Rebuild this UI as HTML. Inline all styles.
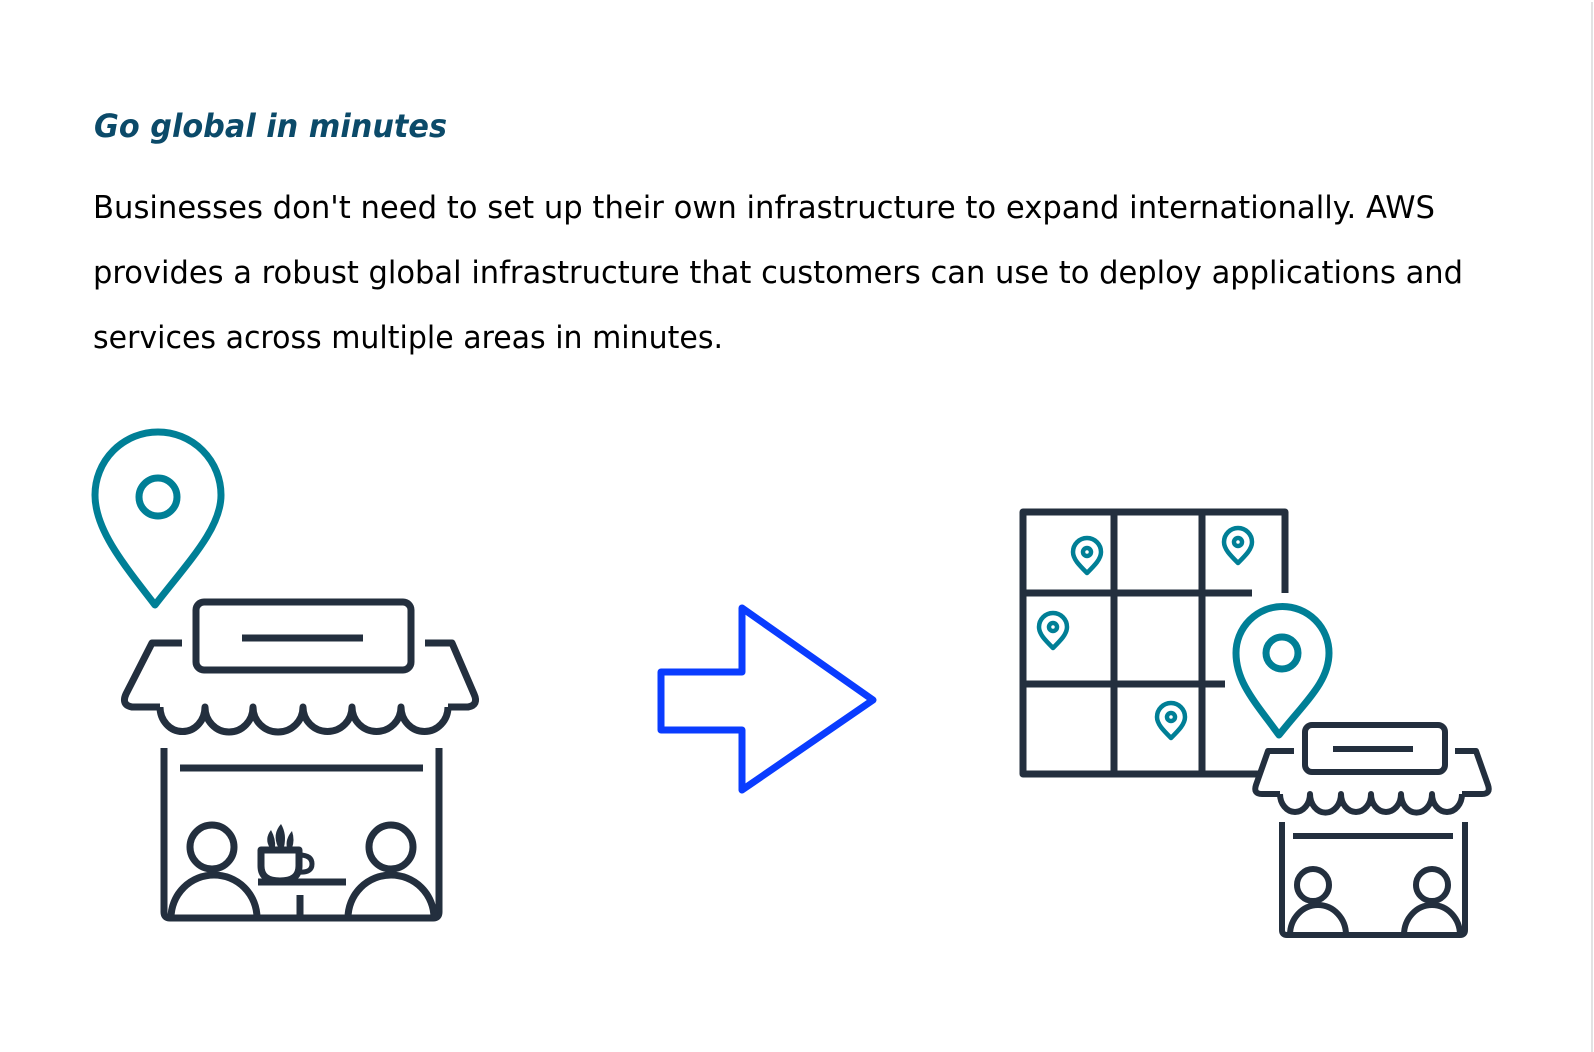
<!DOCTYPE html>
<html><head><meta charset="utf-8"><style>
html,body{margin:0;padding:0;background:#fff;width:1594px;height:1052px;overflow:hidden}
svg{display:block}
</style></head><body>
<svg width="1594" height="1052" viewBox="0 0 1594 1052" xmlns="http://www.w3.org/2000/svg">
<rect x="1591" y="2" width="2" height="1050" fill="#e2e2e2"/>
<text x="94" y="137" font-family="DejaVu Sans, sans-serif" font-size="32" font-weight="bold" font-style="italic" fill="#0b4a69" textLength="353" lengthAdjust="spacingAndGlyphs">Go global in minutes</text>
<g font-family="DejaVu Sans, sans-serif" font-size="31" fill="#000">
<text x="93" y="218" textLength="1342" lengthAdjust="spacingAndGlyphs">Businesses don't need to set up their own infrastructure to expand internationally. AWS</text>
<text x="93" y="283" textLength="1370" lengthAdjust="spacingAndGlyphs">provides a robust global infrastructure that customers can use to deploy applications and</text>
<text x="93" y="348" textLength="630" lengthAdjust="spacingAndGlyphs">services across multiple areas in minutes.</text>
</g>

<!-- left pin -->
<g fill="none" stroke="#007f96" stroke-width="7" stroke-linejoin="round">
<path d="M155,605 C120,560 95,528 95,495 A63,63 0 1 1 221,495 C221,528 190,560 155,605 Z"/>
<circle cx="158" cy="497" r="19"/>
</g>

<!-- left store -->
<g fill="none" stroke="#232f3e" stroke-width="7" stroke-linejoin="round" stroke-linecap="butt">
<rect x="196" y="602" width="215" height="68" rx="8"/>
<line x1="242" y1="638" x2="363" y2="638"/>
<path d="M182,643 L152,643 L126,694 Q121,705 132,707 L160,707"/>
<path d="M425,643 L452,643 L474,694 Q479,705 468,707 L448,707"/>
<path d="M160,707 A22,24 0 0 0 205,707 A23,24 0 0 0 253,707 A24,24 0 0 0 303,707 A24,24 0 0 0 352,707 A24,24 0 0 0 401,707 A23,24 0 0 0 448,707"/>
<path d="M164,748 L164,912 Q164,918 170,918 L433,918 Q439,918 439,912 L439,748"/>
<line x1="180" y1="768" x2="423" y2="768"/>
<circle cx="212" cy="847" r="22"/>
<path d="M171,918 A43,43 0 0 1 257,918"/>
<circle cx="391" cy="847" r="22"/>
<path d="M348,918 A43,43 0 0 1 434,918"/>
<line x1="258" y1="882" x2="346" y2="882"/>
<line x1="300" y1="895" x2="300" y2="918"/>
<path d="M261,850 L299,850 L299,866 Q299,881 280,881 Q261,881 261,866 Z" stroke-width="7"/>
<path d="M299,855 Q312,855 312,864 Q312,873 299,872" stroke-width="5"/>
</g>
<g fill="#232f3e">
<path d="M270,848 Q264,839 271,830 Q276,839 275,848 Z"/>
<path d="M278,847 Q272,834 281,824 Q287,834 284,847 Z"/>
<path d="M287,848 Q285,839 292,831 Q295,840 292,848 Z"/>
</g>

<!-- arrow -->
<path d="M661,672 L742,672 L742,608 L873,700 L742,790 L742,730 L661,730 Z" fill="none" stroke="#0a3cff" stroke-width="7" stroke-linejoin="round"/>

<!-- grid -->
<g fill="none" stroke="#232f3e" stroke-width="7" stroke-linejoin="round">
<path d="M1260,774 L1023,774 L1023,512 L1285,512 L1285,593"/>
<line x1="1114" y1="512" x2="1114" y2="774"/>
<line x1="1202" y1="512" x2="1202" y2="774"/>
<line x1="1023" y1="593" x2="1252" y2="593"/>
<line x1="1023" y1="684" x2="1225" y2="684"/>
</g>
<!-- small pins -->
<g fill="none" stroke="#007f96" stroke-width="4.5" stroke-linejoin="round">
<path d="M1087,573 C1079,565 1073,559 1073,552 A14,14 0 1 1 1101,552 C1101,559 1095,565 1087,573 Z"/>
<circle cx="1087" cy="552" r="4"/>
<path d="M1238,563 C1230,555 1224,549 1224,542 A14,14 0 1 1 1252,542 C1252,549 1246,555 1238,563 Z"/>
<circle cx="1238" cy="542" r="4"/>
<path d="M1053,648 C1045,640 1039,634 1039,627 A14,14 0 1 1 1067,627 C1067,634 1061,640 1053,648 Z"/>
<circle cx="1053" cy="627" r="4"/>
<path d="M1171,738 C1163,730 1157,724 1157,717 A14,14 0 1 1 1185,717 C1185,724 1179,730 1171,738 Z"/>
<circle cx="1171" cy="717" r="4"/>
</g>
<!-- big pin -->
<g fill="none" stroke="#007f96" stroke-width="7" stroke-linejoin="round">
<path d="M1279,735 C1255,702 1236,682 1236,653 A46,46 0 1 1 1329,653 C1329,682 1305,702 1279,735 Z"/>
<circle cx="1282" cy="653" r="16"/>
</g>
<!-- small store -->
<g fill="none" stroke="#232f3e" stroke-width="6" stroke-linejoin="round">
<rect x="1305" y="725" width="140" height="47" rx="7" fill="#fff"/>
<line x1="1333" y1="749" x2="1413" y2="749"/>
<path d="M1294,751 L1268,751 L1256,785 Q1253,794 1262,794 L1280,794"/>
<path d="M1455,751 L1476,751 L1488,785 Q1491,794 1482,794 L1462,794"/>
<path d="M1280,794 A15,18 0 0 0 1310,794 A15,18 0 0 0 1341,794 A15,18 0 0 0 1371,794 A15,18 0 0 0 1401,794 A15,18 0 0 0 1432,794 A15,18 0 0 0 1462,794"/>
<path d="M1282,822 L1282,930 Q1282,935 1287,935 L1460,935 Q1465,935 1465,930 L1465,822"/>
<line x1="1293" y1="836" x2="1453" y2="836"/>
<circle cx="1313" cy="885" r="16"/>
<path d="M1290,935 A28,30 0 0 1 1346,935"/>
<circle cx="1432" cy="885" r="16"/>
<path d="M1404,935 A28,30 0 0 1 1460,935"/>
</g>
</svg>
</body></html>
